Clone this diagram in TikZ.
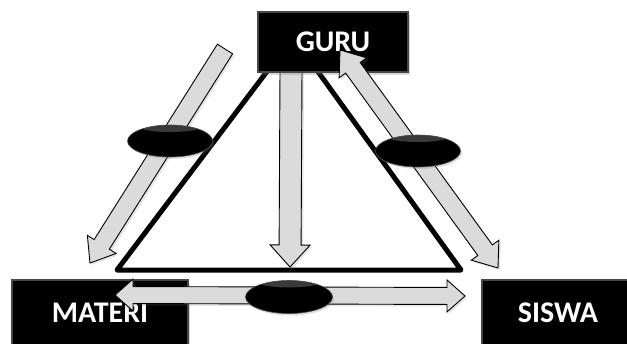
\documentclass[tikz,border=0pt]{standalone}
\usepackage{fontspec}
\setmainfont{Carlito}
\usetikzlibrary{calc,shapes.geometric,shadows}

\tikzset{
  label box/.style={rectangle, fill=black, draw=black!72, line width=1.2pt,
    text=white, font=\bfseries\fontsize{30}{32}\selectfont, inner sep=0pt,
    drop shadow={opacity=0.3, shadow xshift=2pt, shadow yshift=-3pt}},
  link oval/.style={ellipse, draw=black!70, line width=0.6pt, fill=black,
    minimum width=85pt, minimum height=32pt, inner sep=0pt,
    path picture={\fill[black!55, opacity=0.5]
      ([yshift=-2pt]path picture bounding box.north) ellipse (30pt and 5pt);},
    drop shadow={opacity=0.25, shadow xshift=1.5pt, shadow yshift=-2pt}},
  block arrow/.style={draw=black, line width=0.9pt, fill=black!14, line join=miter,
    drop shadow={opacity=0.2, shadow xshift=2pt, shadow yshift=-2pt}},
  frame line/.style={line width=5pt, line join=round, line cap=round},
}

% block arrow with one head: from, to, shaft half width, head half width, head length
\newcommand\onewayarrow[5]{%
  \draw[block arrow]
    ($(#1)!#3!90:(#2)$) -- ($(#2)!#5!(#1)!#3!-90:(#1)$) --
    ($(#2)!#5!(#1)!#4!-90:(#1)$) -- (#2) --
    ($(#2)!#5!(#1)!#4!90:(#1)$) -- ($(#2)!#5!(#1)!#3!90:(#1)$) --
    ($(#1)!#3!-90:(#2)$) -- cycle;}

% block arrow with heads at both ends
\newcommand\twowayarrow[5]{%
  \draw[block arrow]
    ($(#1)!#5!(#2)!#3!90:(#2)$) -- ($(#2)!#5!(#1)!#3!-90:(#1)$) --
    ($(#2)!#5!(#1)!#4!-90:(#1)$) -- (#2) --
    ($(#2)!#5!(#1)!#4!90:(#1)$) -- ($(#2)!#5!(#1)!#3!90:(#1)$) --
    ($(#1)!#5!(#2)!#3!-90:(#2)$) -- ($(#1)!#5!(#2)!#4!-90:(#2)$) --
    (#1) -- ($(#1)!#5!(#2)!#4!90:(#2)$) -- cycle;}

\begin{document}
\begin{tikzpicture}[x=1pt, y=-1pt]
  \useasboundingbox (0,0) rectangle (627,343);
  \clip (0,0) rectangle (627,343);

  % the triangle: teacher at the top, material and student at the base
  \coordinate (apex) at (293,37);
  \coordinate (baseL) at (117,270);
  \coordinate (baseR) at (461,270);
  \draw[frame line] (apex) -- (baseL) -- (baseR) -- cycle;

  % arrow from the teacher straight down to the base
  \coordinate (midTop) at (291,70);
  \coordinate (midTip) at (290,267);
  \onewayarrow{midTop}{midTip}{11pt}{20pt}{22pt}

  % the three boxes
  \node[label box, minimum width=150pt, minimum height=60pt] (guru) at (333,42) {GURU};
  \node[label box, minimum width=176pt, minimum height=66pt] (materi) at (100,313) {MATERI};
  \node[label box, minimum width=152pt, minimum height=66pt] (siswa) at (558,313) {SISWA};

  % teacher to material
  \coordinate (gmStart) at (225,49);
  \coordinate (gmTip) at (90,263);
  \onewayarrow{gmStart}{gmTip}{9pt}{17pt}{22pt}

  % teacher and student
  \coordinate (gsTop) at (340,50);
  \coordinate (gsBottom) at (498,268);
  \twowayarrow{gsTop}{gsBottom}{9pt}{17pt}{22pt}

  % material and student
  \coordinate (msLeft) at (115,295);
  \coordinate (msRight) at (465,296);
  \twowayarrow{msLeft}{msRight}{8.5pt}{16pt}{18pt}

  % the ovals on the links
  \node[link oval] (ovalGM) at (170,141) {};
  \node[link oval] (ovalGS) at (418,151) {};
  \node[link oval, minimum width=87pt, minimum height=33pt] (ovalMS) at (289,297) {};
\end{tikzpicture}
\end{document}
